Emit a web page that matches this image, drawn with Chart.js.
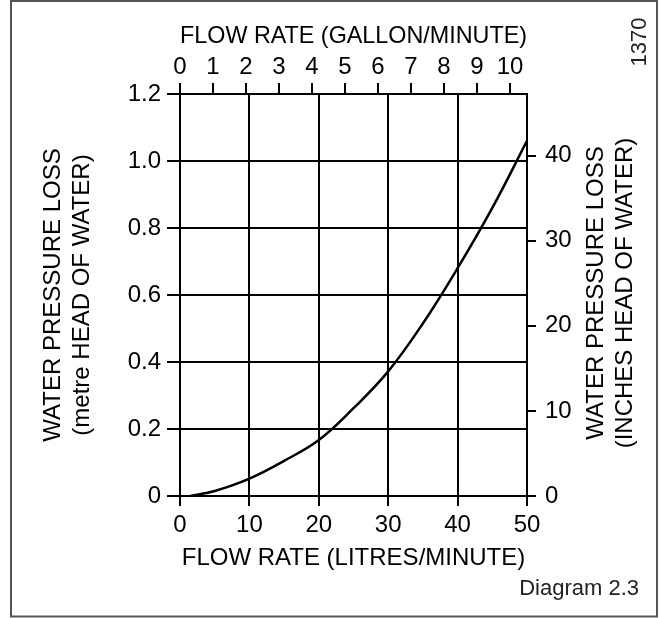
<!DOCTYPE html>
<html>
<head>
<meta charset="utf-8">
<script src="https://cdn.jsdelivr.net/npm/chart.js@4/dist/chart.umd.min.js"></script>
<style>
  html, body { margin: 0; padding: 0; background: #fff; }
  #lossChart { display: block; }
</style>
</head>
<body>
<canvas id="lossChart" width="660" height="618"></canvas>
<script>
// Curve: flow (litres/minute) vs pressure loss (metre head)
const flowLitres = [1.5, 5, 10, 15, 20, 25, 30, 35, 40, 45, 50];
const lossMetres = [0, 0.015, 0.052, 0.105, 0.167, 0.262, 0.372, 0.515, 0.68, 0.86, 1.06];

// Tick labels
const litreTicks = [0, 10, 20, 30, 40, 50];
const gallonTicks = [0, 1, 2, 3, 4, 5, 6, 7, 8, 9, 10];
const metreTicks = [0, 0.2, 0.4, 0.6, 0.8, 1.0, 1.2];
const inchTicks = [0, 10, 20, 30, 40];

const LITRES_PER_GALLON = 4.755; // as drawn on the top scale
const METRES_PER_INCH = 0.0254;

const FONT = '"Liberation Sans", Arial, Helvetica, sans-serif';
Chart.defaults.font.family = FONT;
Chart.defaults.color = '#000';

const black = '#000';

// extra texts and the outer frame
const extrasPlugin = {
    id: 'extras',
    afterDraw(chart) {
        const ctx = chart.ctx;
        const area = chart.chartArea;
        const midY = (area.top + area.bottom) / 2;
        ctx.save();
        ctx.fillStyle = black;

        // right axis title, reading bottom to top
        ctx.font = '24px ' + FONT;
        ctx.textAlign = 'center';
        ctx.textBaseline = 'middle';
        ctx.translate(596, midY - 2);
        ctx.rotate(-Math.PI / 2);
        ctx.fillText('WATER PRESSURE LOSS', 0, 0);
        ctx.fillText('(INCHES HEAD OF WATER)', 0, 29);
        ctx.restore();

        // figure number
        ctx.save();
        ctx.fillStyle = '#222';
        ctx.font = '22px ' + FONT;
        ctx.textAlign = 'center';
        ctx.textBaseline = 'middle';
        ctx.translate(640, 42);
        ctx.rotate(-Math.PI / 2);
        ctx.fillText('1370', 0, 0);
        ctx.restore();

        // caption
        ctx.save();
        ctx.fillStyle = '#222';
        ctx.font = '22px ' + FONT;
        ctx.textAlign = 'right';
        ctx.textBaseline = 'alphabetic';
        ctx.fillText('Diagram 2.3', 639, 595);

        // frame
        ctx.strokeStyle = '#555';
        ctx.lineWidth = 2;
        ctx.strokeRect(11, 1, 646, 615.5);
        ctx.restore();
    }
};

const points = flowLitres.map((x, i) => ({ x: x, y: lossMetres[i] }));

const config = {
    type: 'scatter',
    data: {
        datasets: [{
            data: points,
            showLine: true,
            borderColor: black,
            borderWidth: 2.5,
            pointRadius: 0,
            tension: 0.4,
            xAxisID: 'x',
            yAxisID: 'y'
        }]
    },
    options: {
        responsive: false,
        animation: false,
        layout: { padding: 0 },
        plugins: {
            legend: { display: false },
            tooltip: { enabled: false }
        },
        scales: {
            x: {
                type: 'linear',
                position: 'bottom',
                min: 0,
                max: 50,
                afterBuildTicks: s => { s.ticks = litreTicks.map(v => ({ value: v })); },
                afterFit: s => { s.height = 122; },
                grid: { color: black, lineWidth: 2, tickLength: 10, tickColor: black, tickWidth: 2 },
                border: { display: true, color: black, width: 2 },
                ticks: { font: { size: 24 }, padding: 5, maxRotation: 0, color: black },
                title: {
                    display: true,
                    text: 'FLOW RATE (LITRES/MINUTE)',
                    font: { size: 24 },
                    color: black,
                    padding: { top: 0, bottom: 45 }
                }
            },
            x2: {
                type: 'linear',
                position: 'top',
                min: 0,
                max: 50 / LITRES_PER_GALLON,
                afterBuildTicks: s => { s.ticks = gallonTicks.map(v => ({ value: v })); },
                afterFit: s => { s.height = 94; },
                grid: { drawOnChartArea: false, color: black, lineWidth: 2, tickLength: 11, tickColor: black, tickWidth: 2 },
                border: { display: true, color: black, width: 2 },
                ticks: { font: { size: 24 }, padding: 1, maxRotation: 0, autoSkip: false, color: black },
                title: {
                    display: true,
                    text: 'FLOW RATE (GALLON/MINUTE)',
                    font: { size: 24 },
                    color: black,
                    padding: { top: 22, bottom: 0 }
                }
            },
            y: {
                type: 'linear',
                position: 'left',
                min: 0,
                max: 1.2,
                afterBuildTicks: s => { s.ticks = metreTicks.map(v => ({ value: v })); },
                afterFit: s => { s.width = 180; },
                grid: { color: black, lineWidth: 2, tickLength: 13, tickColor: black, tickWidth: 2 },
                border: { display: true, color: black, width: 2 },
                ticks: {
                    font: { size: 24 },
                    padding: 6,
                    color: black,
                    callback: v => (v === 0 ? '0' : v.toFixed(1))
                },
                title: {
                    display: true,
                    text: ['WATER PRESSURE LOSS', '(metre HEAD OF WATER)'],
                    font: { size: 24, lineHeight: 1.21 },
                    color: black,
                    padding: { top: 39, bottom: 0 }
                }
            },
            y2: {
                type: 'linear',
                position: 'right',
                min: 0,
                max: 1.2 / METRES_PER_INCH,
                afterBuildTicks: s => { s.ticks = inchTicks.map(v => ({ value: v })); },
                afterFit: s => { s.width = 133; },
                grid: { drawOnChartArea: false, color: black, lineWidth: 2, tickLength: 9, tickColor: black, tickWidth: 2 },
                border: { display: true, color: black, width: 2 },
                ticks: { font: { size: 24 }, padding: 9, color: black },
                title: { display: false }
            }
        }
    },
    plugins: [extrasPlugin]
};

const lossChart = new Chart(document.getElementById('lossChart'), config);
</script>
</body>
</html>
